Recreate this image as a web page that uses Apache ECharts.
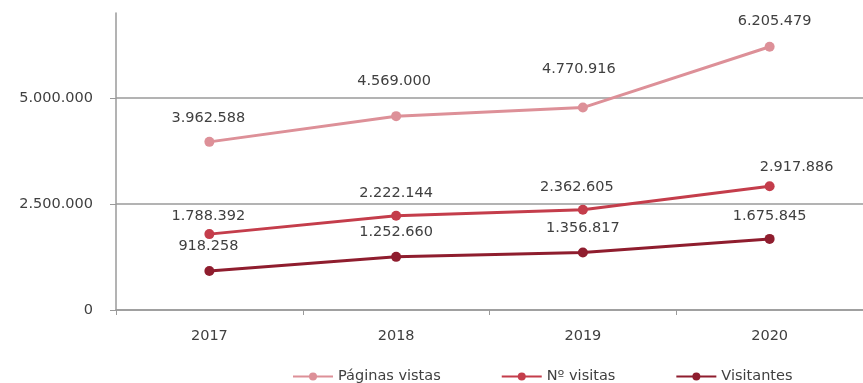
<!DOCTYPE html>
<html>
<head>
<meta charset="utf-8">
<script src="https://cdn.jsdelivr.net/npm/echarts@6/dist/echarts.min.js"></script>
<style>
html,body{margin:0;padding:0;background:#fff;}
#chart{width:863px;height:383px;}
</style>
</head>
<body>
<div id="chart"></div>
<script>
var years = ['2017', '2018', '2019', '2020'];
var paginasVistas = [3962588, 4569000, 4770916, 6205479];
var nVisitas = [1788392, 2222144, 2362605, 2917886];
var visitantes = [918258, 1252660, 1356817, 1675845];
var yTicks = [0, 2500000, 5000000];
var seriesNames = ['Páginas vistas', 'Nº visitas', 'Visitantes'];

// label placement (layout only)
var offPag = [[-1, -24], [-2, -35], [-4, -38], [5, -25]];
var offVis = [[-1, -18], [0, -22], [-6, -23], [27, -19]];
var offVtt = [[-1, -25], [0, -25], [0, -24], [0, -23]];

var FONT = 'DejaVu Sans';
var TXT = '#404040';

function fmt(v) {
  return String(v).replace(/\B(?=(\d{3})+(?!\d))/g, '.');
}

function buildData(vals, offs) {
  return vals.map(function (v, i) {
    return {
      value: v,
      label: { offset: offs[i] }
    };
  });
}

function mkSeries(name, vals, offs, color) {
  return {
    name: name,
    type: 'line',
    data: buildData(vals, offs),
    symbol: 'circle',
    symbolSize: 10,
    lineStyle: { color: color, width: 3 },
    itemStyle: { color: color },
    label: {
      show: true,
      position: 'inside',
      formatter: function (p) { return fmt(p.value); },
      color: TXT,
      fontFamily: FONT,
      fontSize: 14.5
    },
    emphasis: { disabled: true },
    animation: false
  };
}

var chart = echarts.init(document.getElementById('chart'));
chart.setOption({
  backgroundColor: '#ffffff',
  animation: false,
  grid: { left: 116, right: -11, top: 13, bottom: 73, containLabel: false },
  legend: {
    left: 287,
    top: 364,
    itemWidth: 40,
    itemHeight: 10,
    itemGap: 60,
    textStyle: { color: TXT, fontFamily: FONT, fontSize: 14.5 },
    data: seriesNames
  },
  xAxis: {
    type: 'category',
    data: years,
    boundaryGap: true,
    axisLine: { lineStyle: { color: '#9a9a9a', width: 1.5 } },
    axisTick: { show: true, length: 5, lineStyle: { color: '#9a9a9a' } },
    axisLabel: { color: TXT, fontFamily: FONT, fontSize: 14.5, margin: 19 }
  },
  yAxis: {
    type: 'value',
    min: 0,
    max: 7000000,
    interval: 2500000,
    axisLine: { show: true, lineStyle: { color: '#9a9a9a', width: 1.5 } },
    axisTick: { show: true, length: 6, customValues: yTicks, lineStyle: { color: '#9a9a9a' } },
    axisLabel: {
      color: TXT, fontFamily: FONT, fontSize: 14.5, margin: 23,
      customValues: yTicks,
      formatter: function (v) { return fmt(v); }
    },
    splitLine: { show: true, lineStyle: { color: '#9a9a9a', width: 1.5 } }
  },
  series: [
    mkSeries(seriesNames[0], paginasVistas, offPag, '#dd9098'),
    mkSeries(seriesNames[1], nVisitas, offVis, '#c43d4b'),
    mkSeries(seriesNames[2], visitantes, offVtt, '#8f1d2e')
  ]
});
</script>
</body>
</html>
